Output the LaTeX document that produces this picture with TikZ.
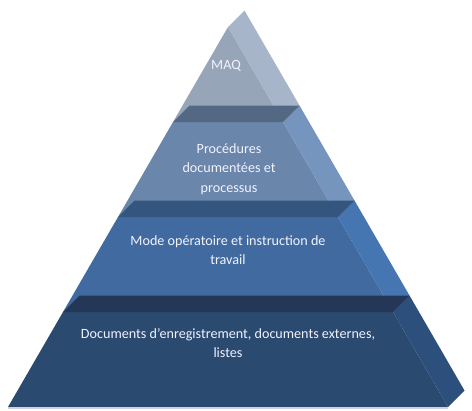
\documentclass[tikz,border=0pt]{standalone}
\usepackage{fontspec}
\setmainfont{Carlito}
\usetikzlibrary{calc}

\definecolor{maqfront}{HTML}{97A5B8}
\definecolor{maqside}{HTML}{A6B5CA}
\definecolor{proctop}{HTML}{536883}
\definecolor{procfront}{HTML}{6A86AB}
\definecolor{procside}{HTML}{7595BF}
\definecolor{modetop}{HTML}{34557E}
\definecolor{modefront}{HTML}{416BA0}
\definecolor{modeside}{HTML}{4676B2}
\definecolor{doctop}{HTML}{243756}
\definecolor{docfront}{HTML}{2A4A70}
\definecolor{docside}{HTML}{2D4F7C}

\begin{document}
\begin{tikzpicture}[
  x=0.75pt, y=-0.75pt,
  label/.style={text=white!95!blue, align=center, inner sep=0pt,
    font=\fontsize{10.6}{14.6}\selectfont},
]
  \useasboundingbox (0,0) rectangle (472,411);

  % front outline of the pyramid, split in four equal layers
  \coordinate (apex) at (228,27);
  \coordinate (bl) at (8,407);
  \coordinate (br) at (448,407);
  \coordinate (l1) at ($(apex)!0.25!(bl)$);
  \coordinate (r1) at ($(apex)!0.25!(br)$);
  \coordinate (l2) at ($(apex)!0.5!(bl)$);
  \coordinate (r2) at ($(apex)!0.5!(br)$);
  \coordinate (l3) at ($(apex)!0.75!(bl)$);
  \coordinate (r3) at ($(apex)!0.75!(br)$);

  % layer 1
  \fill[maqfront] (apex) -- (r1) -- (l1) -- cycle;
  \fill[maqside] (apex) -- ($(apex)+(16.5,-16.5)$) -- ($(r1)+(16.5,-16.5)$) -- (r1) -- cycle;

  % layer 2
  \fill[procfront] (l1) -- (r1) -- (r2) -- (l2) -- cycle;
  \fill[procside] (r1) -- ($(r1)+(16.5,-16.5)$) -- ($(r2)+(16.5,-16.5)$) -- (r2) -- cycle;
  \fill[proctop] (l1) -- (r1) -- ($(r1)+(16.5,-16.5)$) -- ($(l1)+(16.5,-16.5)$) -- cycle;

  % layer 3
  \fill[modefront] (l2) -- (r2) -- (r3) -- (l3) -- cycle;
  \fill[modeside] (r2) -- ($(r2)+(16.5,-16.5)$) -- ($(r3)+(16.5,-16.5)$) -- (r3) -- cycle;
  \fill[modetop] (l2) -- (r2) -- ($(r2)+(16.5,-16.5)$) -- ($(l2)+(16.5,-16.5)$) -- cycle;

  % layer 4
  \fill[docfront] (l3) -- (r3) -- (br) -- (bl) -- cycle;
  \fill[docside] (r3) -- ($(r3)+(16.5,-16.5)$) -- ($(br)+(16.5,-16.5)$) -- (br) -- cycle;
  \fill[doctop] (l3) -- (r3) -- ($(r3)+(16.5,-16.5)$) -- ($(l3)+(16.5,-16.5)$) -- cycle;

  \draw[blue!20!gray!30, line width=1pt] ($(bl)+(0,1)$) -- ($(br)+(0,1)$);

  \node[label] (maq) at (226,66) {MAQ};
  \node[label] (proc) at (229,169) {Procédures\\documentées et\\processus};
  \node[label] (mode) at (228,250) {Mode opératoire et instruction de\\travail};
  \node[label] (docs) at (228,343) {Documents d’enregistrement, documents externes,\\listes};
\end{tikzpicture}
\end{document}
